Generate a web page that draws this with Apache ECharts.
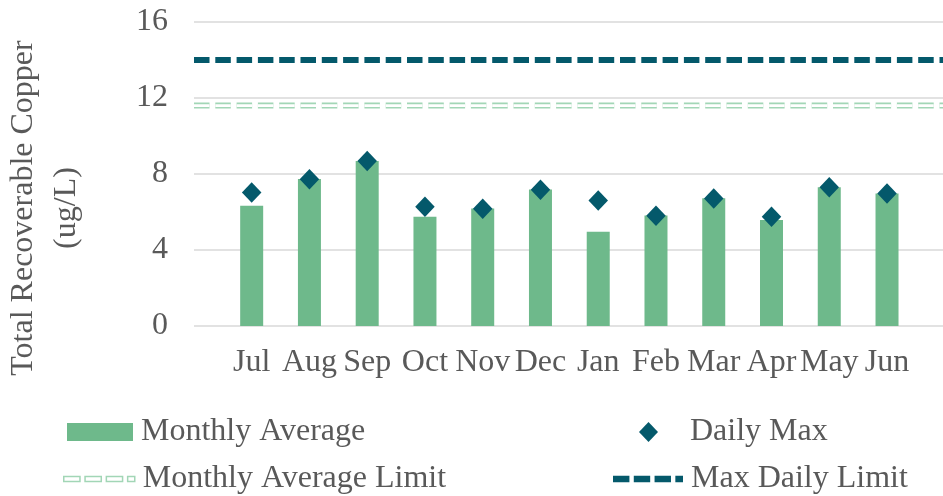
<!DOCTYPE html>
<html>
<head>
<meta charset="utf-8">
<script src="https://cdn.jsdelivr.net/npm/echarts@6/dist/echarts.min.js"></script>
<style>
  html, body { margin: 0; padding: 0; background: #fff; }
  #box { width: 943px; height: 496px; }
</style>
</head>
<body>
<div id="box"></div>
<script>
var months = ['Jul', 'Aug', 'Sep', 'Oct', 'Nov', 'Dec', 'Jan', 'Feb', 'Mar', 'Apr', 'May', 'Jun']
var monthlyAverage = [6.33, 7.74, 8.68, 5.75, 6.18, 7.18, 4.96, 5.81, 6.72, 5.58, 7.3, 6.98]
var dailyMax = [7.03, 7.73, 8.68, 6.28, 6.17, 7.17, 6.6, 5.8, 6.71, 5.75, 7.3, 6.97]
var monthlyAverageLimit = 11.6
var maxDailyLimit = 14
var yTicks = [0, 4, 8, 12, 16]

var font = 'Liberation Serif'
var gray = '#595959'
var barColor = '#6eb98b'
var teal = '#04596b'
var lightGreen = '#a2d6b6'

var Chart = echarts.init(document.getElementById('box'))

var legendText = { color: gray, fontFamily: font, fontSize: 32, padding: [0, 0, 0, 3] }

var option = {
    animation: false,
    grid: [
        { left: 194, right: 0, top: 22, bottom: 170 },
        { left: 222.8, right: 27.1, top: 22, bottom: 170 }
    ],
    xAxis: [
        { gridIndex: 0, type: 'value', min: 0, max: 1, show: false },
        {
            gridIndex: 1,
            type: 'category',
            data: months,
            axisLine: { show: false },
            axisTick: { show: false },
            axisLabel: { interval: 0, margin: 21, color: gray, fontFamily: font, fontSize: 32 }
        }
    ],
    yAxis: [
        {
            gridIndex: 0,
            type: 'value',
            min: yTicks[0],
            max: yTicks[yTicks.length - 1],
            interval: yTicks[1] - yTicks[0],
            axisLine: { show: false },
            axisTick: { show: false },
            axisLabel: { margin: 26, color: gray, fontFamily: font, fontSize: 32 },
            splitLine: { lineStyle: { color: '#d9d9d9', width: 1.5 } }
        },
        {
            gridIndex: 1,
            type: 'value',
            min: yTicks[0],
            max: yTicks[yTicks.length - 1],
            show: false
        }
    ],
    legend: [
        {
            left: 67, top: 416, padding: 0, selectedMode: false,
            itemWidth: 66, itemHeight: 18, textStyle: legendText,
            data: [{ name: 'Monthly Average', icon: 'rect' }]
        },
        {
            left: 639, top: 416, padding: 0, selectedMode: false,
            itemWidth: 19, itemHeight: 20,
            textStyle: Object.assign({}, legendText, { padding: [0, 0, 0, 27] }),
            data: [{ name: 'Daily Max', icon: 'path://M9.5,0L19,10L9.5,20L0,10Z', itemStyle: { color: teal, opacity: 1 } }]
        },
        {
            left: 63, top: 463, padding: 0, selectedMode: false,
            itemWidth: 71, itemHeight: 18, textStyle: legendText,
            data: [{
                name: 'Monthly Average Limit',
                icon: 'path://M0,0H16V5H0Z M21,0H37V5H21Z M42,0H58V5H42Z M63,0H70V5H63Z',
                itemStyle: { color: '#fff', borderColor: lightGreen, borderWidth: 1.5 }
            }]
        },
        {
            left: 613, top: 463, padding: 0, selectedMode: false,
            itemWidth: 70, itemHeight: 18, textStyle: legendText,
            data: [{
                name: 'Max Daily Limit',
                icon: 'path://M0,0H15V6H0Z M19,0H34V6H19Z M38,0H53V6H38Z M57,0H64V6H57Z',
                itemStyle: { color: teal }
            }]
        }
    ],
    graphic: [{
        type: 'text',
        x: 45,
        y: 208,
        rotation: Math.PI / 2,
        style: {
            text: 'Total Recoverable Copper\n(ug/L)',
            fill: gray,
            font: '32px "Liberation Serif"',
            align: 'center',
            verticalAlign: 'middle',
            lineHeight: 43
        }
    }],
    series: [
        {
            name: 'Monthly Average',
            type: 'bar',
            xAxisIndex: 1,
            yAxisIndex: 1,
            barWidth: 23,
            itemStyle: { color: barColor },
            data: monthlyAverage
        },
        {
            name: 'Daily Max',
            type: 'scatter',
            xAxisIndex: 1,
            yAxisIndex: 1,
            symbol: 'diamond',
            symbolSize: [19.5, 20.5],
            itemStyle: { color: teal, opacity: 1 },
            z: 5,
            data: dailyMax
        },
        {
            name: 'Monthly Average Limit',
            type: 'line',
            xAxisIndex: 0,
            yAxisIndex: 0,
            symbol: 'none',
            silent: true,
            lineStyle: { color: lightGreen, width: 6, type: [15.5, 5.8] },
            data: [[0, monthlyAverageLimit], [1, monthlyAverageLimit]]
        },
        {
            name: '',
            type: 'line',
            xAxisIndex: 0,
            yAxisIndex: 0,
            symbol: 'none',
            silent: true,
            z: 3,
            lineStyle: { color: '#fff', width: 2.8, type: [15.5, 5.8] },
            data: [[0, monthlyAverageLimit], [1, monthlyAverageLimit]]
        },
        {
            name: 'Max Daily Limit',
            type: 'line',
            xAxisIndex: 0,
            yAxisIndex: 0,
            symbol: 'none',
            silent: true,
            lineStyle: { color: teal, width: 6, type: [15.5, 5.8] },
            data: [[0, maxDailyLimit], [1, maxDailyLimit]]
        }
    ]
}
Chart.setOption(option)
window.onresize = () => {
    Chart.resize()
}
</script>
</body>
</html>
